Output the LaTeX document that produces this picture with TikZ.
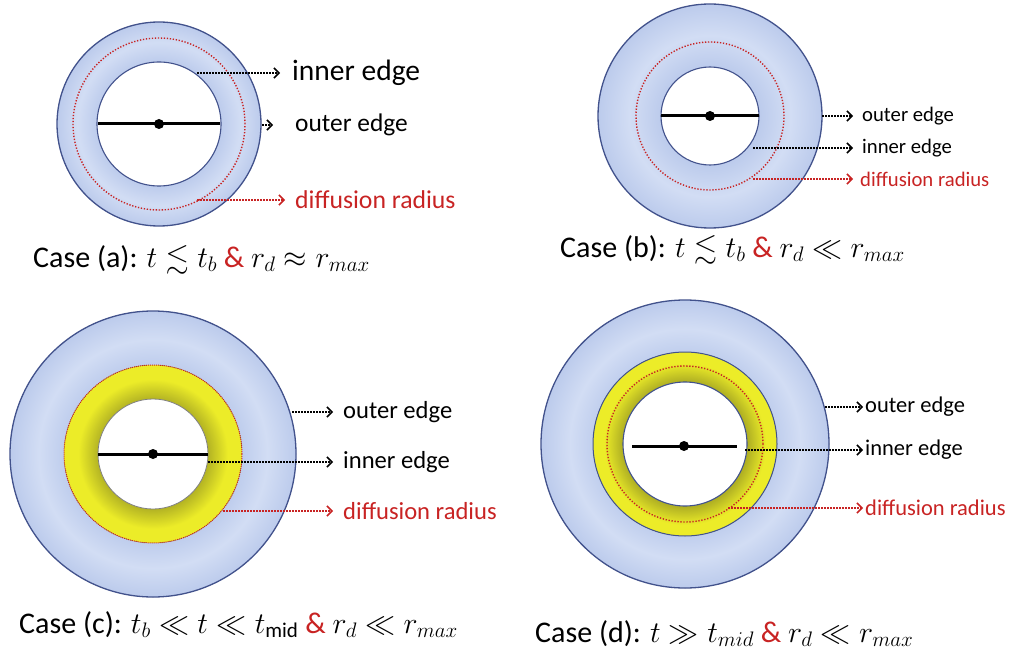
\RequirePackage{fix-cm}
\documentclass[tikz,border=0pt]{standalone}
\usepackage{amssymb}
\usepackage{fontspec}
\setmainfont{Carlito}
\usetikzlibrary{arrows.meta}

\definecolor{ringedge}{RGB}{66,82,140}
\definecolor{ringdark}{RGB}{188,203,236}
\definecolor{ringlight}{RGB}{210,221,244}
\definecolor{yelldark}{RGB}{175,175,35}
\definecolor{yellbright}{RGB}{236,236,40}
\definecolor{diffred}{RGB}{200,35,35}

% ring shadings (inner edge of the ring at the first stop)
\pgfdeclareradialshading{ringa}{\pgfpoint{0bp}{0bp}}{color(0bp)=(ringdark);color(15bp)=(ringdark);color(20bp)=(ringlight);color(25bp)=(ringdark);color(50bp)=(ringdark)}
\pgfdeclareradialshading{ringb}{\pgfpoint{0bp}{0bp}}{color(0bp)=(ringdark);color(11bp)=(ringdark);color(18bp)=(ringlight);color(25bp)=(ringdark);color(50bp)=(ringdark)}
\pgfdeclareradialshading{ringc}{\pgfpoint{0bp}{0bp}}{color(0bp)=(ringdark);color(15bp)=(ringdark);color(20bp)=(ringlight);color(25bp)=(ringdark);color(50bp)=(ringdark)}
\pgfdeclareradialshading{yellc}{\pgfpoint{0bp}{0bp}}{color(0bp)=(yelldark);color(15bp)=(yelldark);color(21bp)=(yellbright);color(25bp)=(yellbright);color(50bp)=(yellbright)}
\pgfdeclareradialshading{yelld}{\pgfpoint{0bp}{0bp}}{color(0bp)=(yelldark);color(17bp)=(yelldark);color(22bp)=(yellbright);color(25bp)=(yellbright);color(50bp)=(yellbright)}

\tikzset{
  outerring/.style={draw=ringedge,line width=1.3pt},
  hole/.style={draw=ringedge,line width=1.1pt,fill=white},
  diffcircle/.style={draw=diffred,line width=1.4pt,dash pattern=on 1.3pt off 1.7pt},
  diameter/.style={line width=3pt},
  centre/.style={circle,fill=black,inner sep=0pt,minimum size=10pt},
  ptr/.style={line width=1.5pt,dash pattern=on 1.5pt off 1.5pt,-{Straight Barb[length=5pt,width=10pt]}},
  redptr/.style={ptr,draw=diffred},
  lbl/.style={anchor=west,inner sep=0pt,font=\fontsize{#1}{#1}\selectfont},
  redlbl/.style={lbl=#1,text=diffred},
  caption/.style={anchor=base west,inner sep=0pt,font=\fontsize{#1}{#1}\selectfont}
}

\begin{document}
\begin{tikzpicture}[x=1pt,y=-1pt]
\useasboundingbox (0,0) rectangle (1011,655);

%Case (a)
\coordinate (ca) at (159,124);
\fill[shading=ringa] (ca) circle[radius=102pt];
\draw[outerring] (ca) circle[radius=102pt];
\draw[hole] (ca) circle[radius=62pt];
\draw[diffcircle] (ca) circle[radius=86pt];
\coordinate (ala) at (98,124);
\coordinate (alb) at (220,124);
\draw[diameter] (ala) -- (alb);
\node[centre] (adot) at (ca) {};
\coordinate (ain) at (197,73);
\coordinate (aout) at (262,125);
\coordinate (adiff) at (197,200);
\node[lbl=29.5] (ainl) at (292,73) {inner edge};
\node[lbl=25.4] (aoutl) at (295,125) {outer edge};
\node[redlbl=25.7] (adiffl) at (295,200) {diffusion radius};
\draw[ptr,shorten >=12pt] (ain) -- (ainl.west);
\draw[ptr,shorten >=22pt] (aout) -- (aoutl.west);
\draw[redptr,shorten >=10pt] (adiff) -- (adiffl.west);
\node[caption=30] (acap) at (33,267) {Case (a): $t\lesssim t_b$ {\color{diffred}\&} $r_d\approx r_{max}$};

%Case (b)
\coordinate (cb) at (710,116);
\fill[shading=ringb] (cb) circle[radius=112pt];
\draw[outerring] (cb) circle[radius=112pt];
\draw[hole] (cb) circle[radius=49pt];
\draw[diffcircle] (cb) circle[radius=74pt];
\coordinate (bla) at (661,116);
\coordinate (blb) at (759,116);
\draw[diameter] (bla) -- (blb);
\node[centre] (bdot) at (cb) {};
\coordinate (bout) at (822,116);
\coordinate (bin) at (753,148);
\coordinate (bdiff) at (753,179);
\node[lbl=20.7] (boutl) at (862,116) {outer edge};
\node[lbl=20.7] (binl) at (862,148) {inner edge};
\node[redlbl=20.7] (bdiffl) at (860,179) {diffusion radius};
\draw[ptr,shorten >=9pt] (bout) -- (boutl.west);
\draw[ptr,shorten >=9pt] (bin) -- (binl.west);
\draw[redptr,shorten >=7pt] (bdiff) -- (bdiffl.west);
\node[caption=30] (bcap) at (560,257) {Case (b): $t\lesssim t_b$ {\color{diffred}\&} $r_d\ll r_{max}$};

%Case (c)
\coordinate (cc) at (153,454);
\fill[shading=ringc] (cc) circle[radius=143pt];
\draw[outerring] (cc) circle[radius=143pt];
\fill[shading=yellc] (cc) circle[radius=89pt];
\draw[diffcircle,line width=1pt,dash pattern=on 1pt off 1pt] (cc) circle[radius=89pt];
\draw[draw=gray,line width=0.8pt,fill=white] (cc) circle[radius=55pt];
\coordinate (cla) at (98,454);
\coordinate (clb) at (208,454);
\draw[diameter] (cla) -- (clb);
\node[centre] (cdot) at (cc) {};
\coordinate (cout) at (292,412);
\coordinate (cin) at (208,462);
\coordinate (cdiff) at (223,511);
\node[lbl=24.6] (coutl) at (343,412) {outer edge};
\node[lbl=24.6] (cinl) at (343,462) {inner edge};
\node[redlbl=24.6] (cdiffl) at (343,511) {diffusion radius};
\draw[ptr,shorten >=10pt] (cout) -- (coutl.west);
\draw[ptr,shorten >=10pt] (cin) -- (cinl.west);
\draw[redptr,shorten >=10pt] (cdiff) -- (cdiffl.west);
\node[caption=30] (ccap) at (19,633) {Case (c): $t_b\ll t\ll t_{\mathrm{mid}}$ {\color{diffred}\&} $r_d\ll r_{max}$};

%Case (d)
\coordinate (cd) at (685,444);
\fill[shading=ringc] (cd) circle[radius=144pt];
\draw[outerring] (cd) circle[radius=144pt];
\fill[shading=yelld] (cd) circle[radius=92pt];
\draw[draw=ringedge,line width=1pt] (cd) circle[radius=92pt];
\draw[hole] (cd) circle[radius=62pt];
\draw[diffcircle] (cd) circle[radius=78pt];
\coordinate (dla) at (632,446);
\coordinate (dlb) at (737,446);
\draw[diameter] (dla) -- (dlb);
\node[centre] (ddot) at (684,446) {};
\coordinate (dout) at (825,407);
\coordinate (din) at (745,450);
\coordinate (ddiff) at (728,508);
\node[lbl=22.5] (doutl) at (865,407) {outer edge};
\node[lbl=22.5] (dinl) at (865,450) {inner edge};
\node[redlbl=22.5] (ddiffl) at (865,508) {diffusion radius};
\draw[ptr,shorten >=2pt] (dout) -- (doutl.west);
\draw[ptr,shorten >=2pt] (din) -- (dinl.west);
\draw[redptr,shorten >=2pt] (ddiff) -- (ddiffl.west);
\node[caption=30] (dcap) at (535,642) {Case (d): $t\gg t_{mid}$ {\color{diffred}\&} $r_d\ll r_{max}$};
\end{tikzpicture}
\end{document}
